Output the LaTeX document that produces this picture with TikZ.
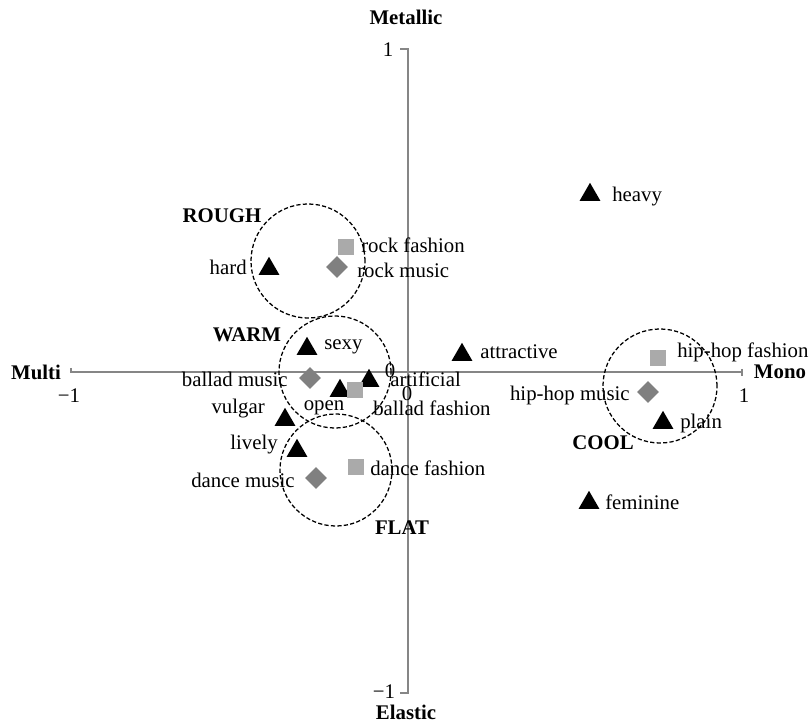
\documentclass[tikz,border=0pt]{standalone}
\usepackage{fontspec}
\setmainfont{Liberation Serif}
\usetikzlibrary{shapes.geometric}
\definecolor{axisgray}{RGB}{134,134,134}
\definecolor{fashgray}{RGB}{170,170,170}
\definecolor{musicgray}{RGB}{128,128,128}

\begin{document}
\begin{tikzpicture}[x=0.025cm, y=-0.025cm, font=\fontsize{14.8}{17}\selectfont,
  tri/.style={regular polygon, regular polygon sides=3, fill=black, inner sep=0pt, minimum size=0.6cm, yshift=-2pt},
  sq/.style={rectangle, fill=fashgray, inner sep=0pt, minimum size=0.4cm},
  dia/.style={diamond, fill=musicgray, inner sep=0pt, minimum width=0.55cm, minimum height=0.55cm},
  lbl/.style={inner sep=0pt},
  grp/.style={inner sep=0pt, font=\fontsize{14.8}{17}\selectfont\bfseries},
  axis/.style={axisgray, line width=1.4pt},
  ring/.style={draw=black, line width=0.9pt, dash pattern=on 3pt off 1.6pt}]
\useasboundingbox (0,0) rectangle (811,722);
% axes
\draw [axis] (71,368) -- (71,372) -- (742,372);
\draw [axis] (742,369) -- (742,376);
\draw [axis] (400,49) -- (408,49) -- (408,693) -- (400,693);
\node (ytop) at (388,50) [lbl] {1};
\node (ybot) at (384,692) [lbl] {−1};
\node (xleft) at (69,396) [lbl] {−1};
\node (xright) at (744,396) [lbl] {1};
\node (yzero) at (390,371) [lbl] {0};
\node (xzero) at (407,394) [lbl] {0};
\node (metallic) at (406,17) [grp] {Metallic};
\node (elastic) at (406,712) [grp] {Elastic};
\node (multi) at (36,372) [grp] {Multi};
\node (mono) at (780,372) [grp] {Mono};
% groups
\draw [ring] (308,261) circle (1.425cm);
\draw [ring] (335,372) circle (1.4cm);
\draw [ring] (336,470) circle (1.4cm);
\draw [ring] (660,386) circle (1.425cm);
\node (rough) at (222,216) [grp] {ROUGH};
\node (warm) at (247,335) [grp] {WARM};
\node (flat) at (402,528) [grp] {FLAT};
\node (cool) at (603,443) [grp] {COOL};
% image words
\node (heavy) at (590,192) [tri] {};
\node (hard) at (269,266) [tri] {};
\node (sexy) at (307,346) [tri] {};
\node (open) at (340,388) [tri] {};
\node (artificial) at (369,378) [tri] {};
\node (vulgar) at (285,417) [tri] {};
\node (lively) at (297,448) [tri] {};
\node (attractive) at (462,352) [tri] {};
\node (plain) at (663,420) [tri] {};
\node (feminine) at (589,500) [tri] {};
\node (heavyL) at (612,197) [lbl, anchor=west] {heavy};
\node (hardL) at (247,267) [lbl, anchor=east] {hard};
\node (sexyL) at (324,347) [lbl, anchor=west] {sexy};
\node (openL) at (324,408) [lbl] {open};
\node (artificialL) at (390,379) [lbl, anchor=west] {artificial};
\node (vulgarL) at (265,409) [lbl, anchor=east] {vulgar};
\node (livelyL) at (278,445) [lbl, anchor=east] {lively};
\node (attractiveL) at (480,352) [lbl, anchor=west] {attractive};
\node (plainL) at (680,423) [lbl, anchor=west] {plain};
\node (feminineL) at (605,502) [lbl, anchor=west] {feminine};
% fashion
\node (rockF) at (346,247) [sq] {};
\node (balladF) at (355,390) [sq] {};
\node (danceF) at (356,467) [sq] {};
\node (hiphopF) at (658,358) [sq] {};
\node (rockFL) at (361,245) [lbl, anchor=west] {rock fashion};
\node (balladFL) at (373,408) [lbl, anchor=west] {ballad fashion};
\node (danceFL) at (370,468) [lbl, anchor=west] {dance fashion};
\node (hiphopFL) at (677,352) [lbl, anchor=west] {hip-hop fashion};
% music
\node (rockM) at (337,267) [dia] {};
\node (balladM) at (310,378) [dia] {};
\node (danceM) at (316,478) [dia] {};
\node (hiphopM) at (648,392) [dia] {};
\node (rockML) at (357,270) [lbl, anchor=west] {rock music};
\node (balladML) at (288,379) [lbl, anchor=east] {ballad music};
\node (danceML) at (295,480) [lbl, anchor=east] {dance music};
\node (hiphopML) at (630,395) [lbl, anchor=east] {hip-hop music};
\end{tikzpicture}
\end{document}
